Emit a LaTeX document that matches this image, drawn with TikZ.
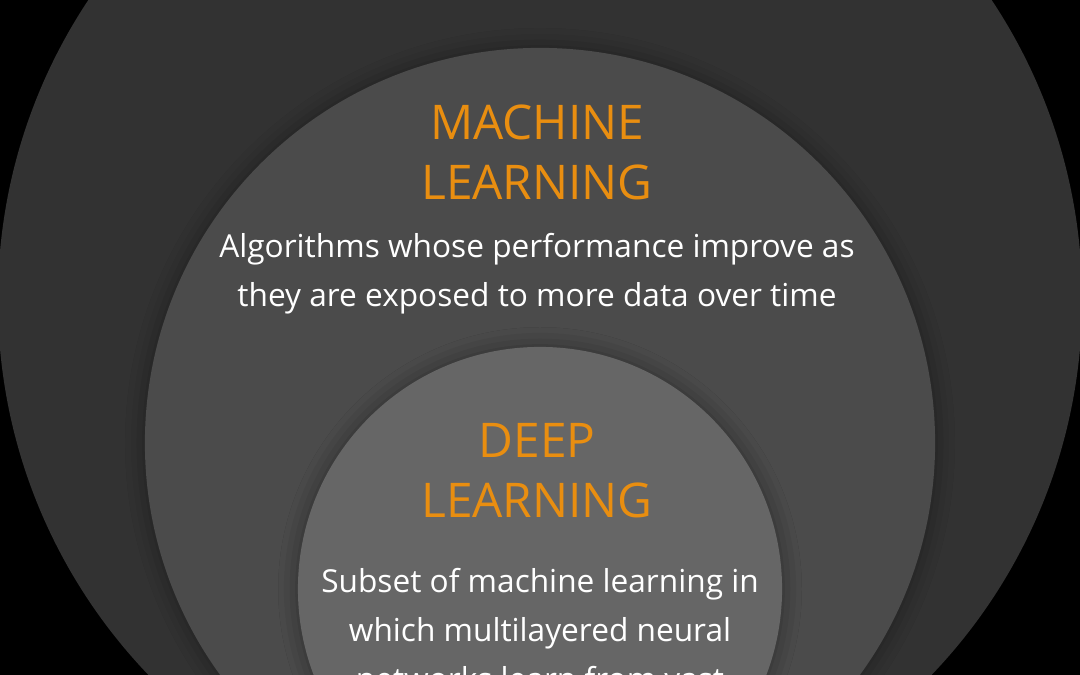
\documentclass[tikz,border=0pt]{standalone}
\usepackage{fontspec}
\setmainfont{Open Sans}
\usetikzlibrary{shadows.blur}
\definecolor{mlorange}{RGB}{233,142,16}
\definecolor{aigray}{HTML}{323232}
\definecolor{mlgray}{HTML}{4B4B4B}
\definecolor{dlgray}{HTML}{666666}

\begin{document}
\begin{tikzpicture}[
  x=0.025cm, y=0.025cm,
  ring/.style={circle, inner sep=0pt, draw=none,
               blur shadow={shadow xshift=0pt, shadow yshift=0pt,
                            shadow blur radius=14pt, shadow opacity=40}},
  title/.style={text=mlorange, align=center, anchor=base,
                font=\fontsize{34}{42.7}\selectfont},
  blurb/.style={text=white, align=center, anchor=base,
                font=\fontsize{22.5}{34.9}\selectfont}
]
  \useasboundingbox (0,0) rectangle (1080,675);
  \clip (0,0) rectangle (1080,675);
  \fill[black] (0,0) rectangle (1080,675);
  % nested rings, centres in px of the 1080x675 frame
  \foreach \nm/\col/\d/\cy in {ai/aigray/27.1/375, ml/mlgray/19.75/232,
                               dl/dlgray/12.1/86}
    {\node[ring, fill=\col, minimum size=\d cm] (\nm) at (540,\cy) {};}
  % base anchor sits on the last line
  \node[title] (mltitle) at (537,475) {MACHINE\\LEARNING};
  \node[blurb] (mltext) at (537,368)
    {Algorithms whose performance improve as\\they are exposed to more data over time};
  \node[title] (dltitle) at (537,157) {DEEP\\LEARNING};
  \node[blurb] (dltext) at (540,-16)
    {Subset of machine learning in\\which multilayered neural\\networks learn from vast};
\end{tikzpicture}
\end{document}
